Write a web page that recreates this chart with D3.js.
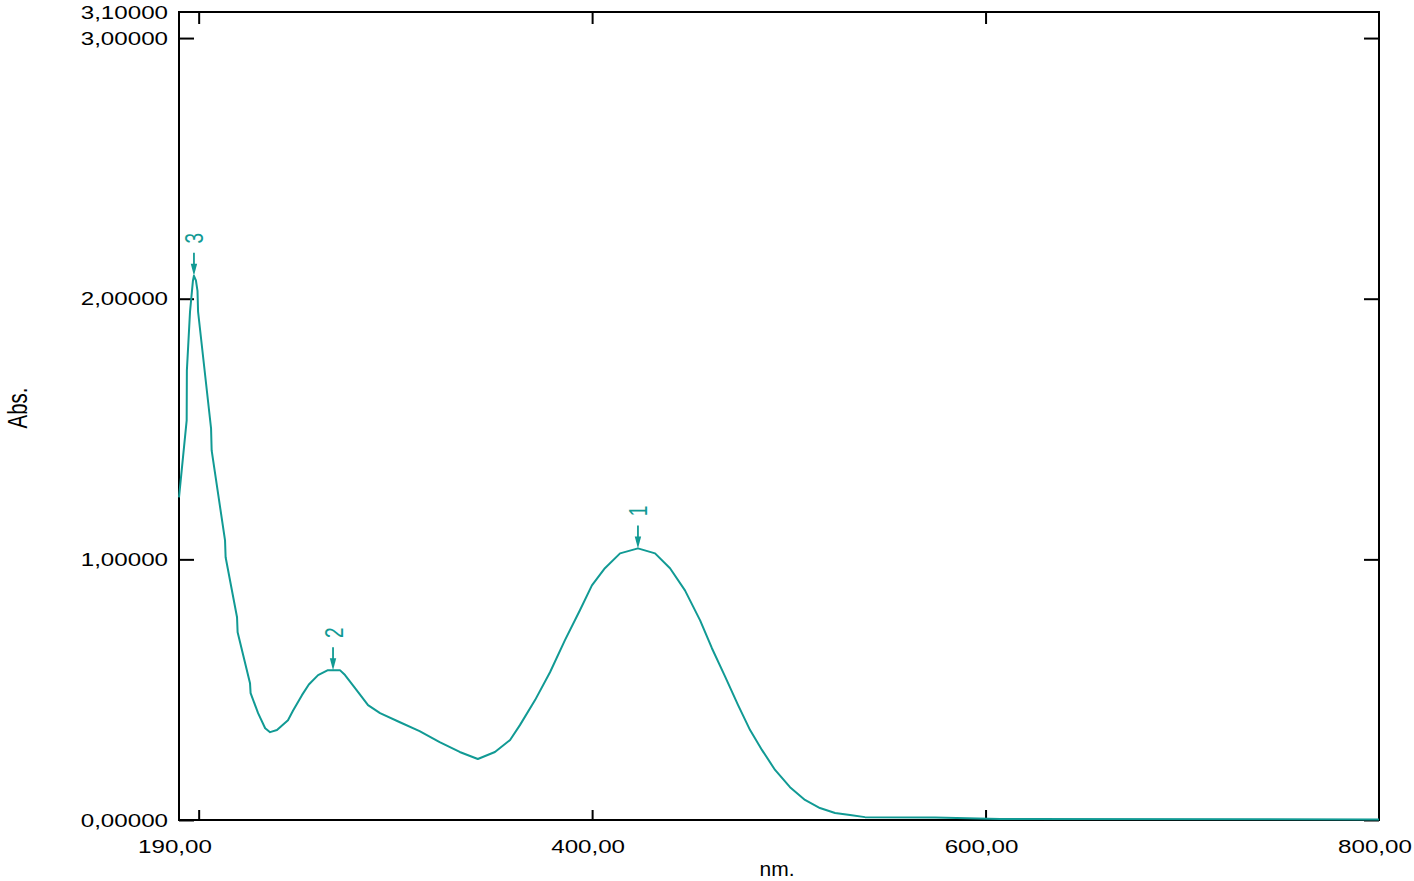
<!DOCTYPE html>
<html>
<head>
<meta charset="utf-8">
<script src="https://cdn.jsdelivr.net/npm/d3@7"></script>
<style>
  html, body { margin: 0; padding: 0; background: #ffffff; }
  svg { display: block; }
  text { font-family: "Liberation Sans", Arial, sans-serif; }
</style>
</head>
<body>
<svg id="chart" width="1414" height="881"></svg>
<script>
// ---- data ----
const wavelength = [190.0, 193.9, 194.0, 195.6, 197.1, 197.6, 198.6, 199.4, 199.7, 206.3, 206.6,
  213.4, 213.7, 219.5, 219.8, 226.1, 226.4, 230.2, 233.8, 236.3, 239.8, 245.4, 248.0, 252.5,
  256.0, 260.7, 265.7, 271.8, 274.4, 279.5, 286.1, 292.2, 302.3, 312.3, 322.5, 332.7, 341.9,
  350.6, 358.3, 363.3, 371.0, 378.6, 386.2, 393.8, 399.9, 406.5, 414.2, 423.3, 432.0, 439.6,
  447.2, 454.9, 460.9, 467.5, 474.2, 480.3, 486.4, 493.0, 500.6, 508.2, 515.8, 523.5, 531.1,
  538.7, 574.3, 607.3, 800.0];
const absorbance = [1.238, 1.533, 1.724, 1.950, 2.070, 2.088, 2.070, 2.030, 1.950, 1.502, 1.418,
  1.073, 1.008, 0.778, 0.720, 0.525, 0.487, 0.410, 0.352, 0.337, 0.345, 0.383, 0.420, 0.479,
  0.520, 0.556, 0.575, 0.575, 0.556, 0.506, 0.441, 0.410, 0.375, 0.341, 0.299, 0.261, 0.234,
  0.261, 0.307, 0.364, 0.460, 0.567, 0.690, 0.805, 0.900, 0.966, 1.023, 1.042, 1.023, 0.966,
  0.881, 0.766, 0.659, 0.552, 0.441, 0.345, 0.268, 0.192, 0.126, 0.077, 0.046, 0.027, 0.019,
  0.011, 0.010, 0.004, 0.002];

const peakLabels = ["1", "2", "3"];
const peakWavelength = [423.3, 268.3, 197.6];
const peakAbsorbance = [1.042, 0.575, 2.088];

const xTickMarks = [200, 400, 600];
const xTickLabelValues = [190, 400, 600, 800];
const xTickLabels = ["190,00", "400,00", "600,00", "800,00"];
const yTickMarks = [0, 1, 2, 3];
const yTickLabelValues = [0, 1, 2, 3, 3.1];
const yTickLabels = ["0,00000", "1,00000", "2,00000", "3,00000", "3,10000"];

const xTitle = "nm.";
const yTitle = "Abs.";

// ---- layout ----
const mL = 179, mR = 1379, mT = 12, mB = 820;
const lineColor = "#119a94";

const svg = d3.select("#chart");
const x = d3.scaleLinear().domain([190, 800]).range([mL, mR]);
const y = d3.scaleLinear().domain([0, 3.1]).range([mB, mT]);

// tick marks via d3 axes (inward)
svg.append("g").attr("transform", `translate(${mL},0)`)
  .call(d3.axisLeft(y).tickValues(yTickMarks).tickSize(-15).tickFormat(""))
  .call(g => g.select(".domain").remove())
  .call(g => g.selectAll("line").attr("stroke", "#000").attr("stroke-width", 2));
svg.append("g").attr("transform", `translate(${mR},0)`)
  .call(d3.axisRight(y).tickValues(yTickMarks).tickSize(-15).tickFormat(""))
  .call(g => g.select(".domain").remove())
  .call(g => g.selectAll("line").attr("stroke", "#000").attr("stroke-width", 2));
svg.append("g").attr("transform", `translate(0,${mT})`)
  .call(d3.axisTop(x).tickValues(xTickMarks).tickSize(-12).tickFormat(""))
  .call(g => g.select(".domain").remove())
  .call(g => g.selectAll("line").attr("stroke", "#000").attr("stroke-width", 2));
svg.append("g").attr("transform", `translate(0,${mB})`)
  .call(d3.axisBottom(x).tickValues(xTickMarks).tickSize(-10).tickFormat(""))
  .call(g => g.select(".domain").remove())
  .call(g => g.selectAll("line").attr("stroke", "#000").attr("stroke-width", 2));

// frame
svg.append("rect")
  .attr("x", mL).attr("y", mT)
  .attr("width", mR - mL).attr("height", mB - mT)
  .attr("fill", "none").attr("stroke", "#000").attr("stroke-width", 2);

// y tick labels (wide glyphs)
const yl = svg.append("g");
yTickLabelValues.forEach((v, i) => {
  yl.append("g").attr("transform", `translate(${mL - 11},${y(v) + 6.5})`)
    .append("text")
    .attr("transform", "scale(1.38,1)")
    .attr("text-anchor", "end")
    .attr("font-size", 17.5)
    .attr("fill", "#000")
    .text(yTickLabels[i]);
});

// x tick labels
const xl = svg.append("g");
xTickLabelValues.forEach((v, i) => {
  xl.append("g").attr("transform", `translate(${x(v) - 4},${mB + 33})`)
    .append("text")
    .attr("transform", "scale(1.38,1)")
    .attr("text-anchor", "middle")
    .attr("font-size", 17.5)
    .attr("fill", "#000")
    .text(xTickLabels[i]);
});

// axis titles (condensed)
svg.append("g").attr("transform", `translate(27,408) rotate(-90)`)
  .append("text").attr("transform", "scale(0.73,1)")
  .attr("text-anchor", "middle").attr("font-size", 28).attr("fill", "#000")
  .text(yTitle);
svg.append("g").attr("transform", `translate(${(mL + mR) / 2 - 2},${mB + 56})`)
  .append("text").attr("transform", "scale(1,1)")
  .attr("text-anchor", "middle").attr("font-size", 21).attr("fill", "#000")
  .text(xTitle);

// spectrum line
const pts = wavelength.map((w, i) => [w, absorbance[i]]);
svg.append("path")
  .datum(pts)
  .attr("fill", "none")
  .attr("stroke", lineColor)
  .attr("stroke-width", 2)
  .attr("stroke-linejoin", "round")
  .attr("d", d3.line().x(d => x(d[0])).y(d => y(d[1])));

// peak markers
peakLabels.forEach((lab, i) => {
  const px = x(peakWavelength[i]);
  const py = y(peakAbsorbance[i]);
  const g = svg.append("g");
  g.append("line")
    .attr("x1", px).attr("x2", px)
    .attr("y1", py - 23).attr("y2", py - 8)
    .attr("stroke", lineColor).attr("stroke-width", 1.8);
  g.append("path")
    .attr("d", `M${px - 3.2},${py - 12} L${px + 3.2},${py - 12} L${px},${py} Z`)
    .attr("fill", lineColor);
  g.append("g").attr("transform", `translate(${px + 9.5},${py - 37.5}) rotate(-90)`)
    .append("text").attr("transform", "scale(0.73,1)")
    .attr("text-anchor", "middle").attr("font-size", 26).attr("fill", lineColor)
    .text(lab);
});
</script>
</body>
</html>
